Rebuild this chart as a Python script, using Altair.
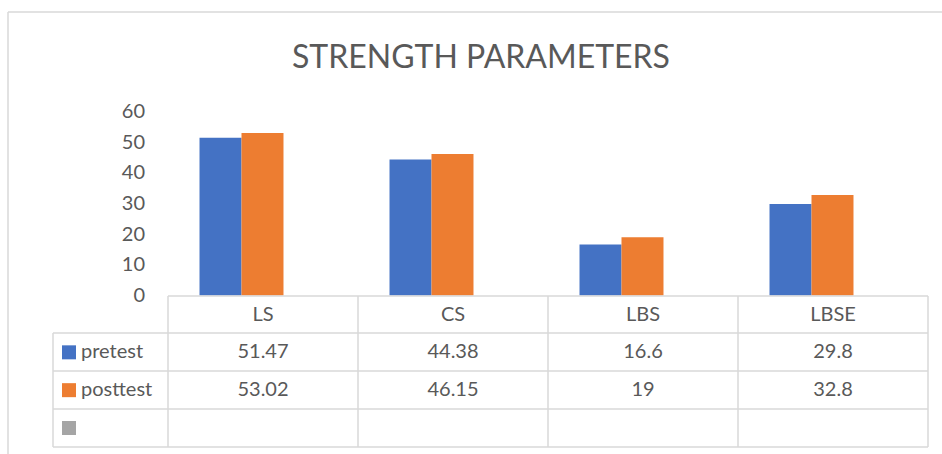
import altair as alt
import pandas as pd

# ---------------- data ----------------
categories = ["LS", "CS", "LBS", "LBSE"]
series_names = ["pretest", "posttest"]
pretest = [51.47, 44.38, 16.6, 29.8]
posttest = [53.02, 46.15, 19, 32.8]
y_ticks = [0, 10, 20, 30, 40, 50, 60]
title_text = "STRENGTH PARAMETERS"
table_rows = ["header", "pretest", "posttest", "blank"]
legend_labels = ["pretest", "posttest", ""]

# ---------------- style ----------------
BLUE, ORANGE, GRAY = "#4472C4", "#ED7D31", "#A5A5A5"
TEXT, LINE = "#595959", "#D9D9D9"
FONT = "Lato"
FS = 20

# plot area placement (pixels in the 942x454 page)
L, T = 146.5, 111.5
W, H = 760, 184
COL_SHIFT = 21.5  # table columns are offset from bar groups

bars_df = pd.DataFrame({
    "category": categories * 2,
    "series": ["pretest"] * len(categories) + ["posttest"] * len(categories),
    "value": pretest + posttest,
})
bars_df["label"] = bars_df["value"].map(lambda v: f"{v:g}")
bars_df["row"] = bars_df["series"]

cat_df = pd.DataFrame({"category": categories, "row": "header"})
legend_df = pd.DataFrame({"series": ["pretest", "posttest", "blank"], "label": legend_labels})
legend_df["row"] = legend_df["series"]

xscale = alt.Scale(domain=categories, paddingInner=0.558, paddingOuter=0.279)
xenc = alt.X("category:N", sort=categories, scale=xscale, axis=None)
color_scale = alt.Scale(domain=["pretest", "posttest", "blank"], range=[BLUE, ORANGE, GRAY])
row_y = alt.Y("row:N", scale=alt.Scale(type="point", domain=table_rows,
                                       range=[314.5 - T, 428 - T], padding=0), axis=None)

bars = alt.Chart(bars_df).mark_bar().encode(
    x=xenc,
    xOffset=alt.XOffset("series:N", sort=series_names,
                        scale=alt.Scale(domain=series_names, paddingInner=0, paddingOuter=0)),
    y=alt.Y("value:Q", scale=alt.Scale(domain=[0, 60], nice=False),
            axis=alt.Axis(values=y_ticks, grid=False, domain=False, ticks=False,
                          labelPadding=2, labelFont=FONT, labelFontSize=FS,
                          labelColor=TEXT, title=None)),
    color=alt.Color("series:N", scale=color_scale, legend=None),
)

text_kw = dict(font=FONT, fontSize=FS, color=TEXT, baseline="middle")

header_text = alt.Chart(cat_df).mark_text(xOffset=COL_SHIFT, **text_kw).encode(
    x=xenc, y=row_y, text="category:N")

value_text = alt.Chart(bars_df).mark_text(xOffset=COL_SHIFT, **text_kw).encode(
    x=xenc, y=row_y, text="label:N")

legend_text = alt.Chart(legend_df).mark_text(align="left", **text_kw).encode(
    x=alt.value(81 - L), y=row_y, text="label:N")

legend_keys = alt.Chart(legend_df).mark_square(size=196, opacity=1).encode(
    x=alt.value(69 - L), y=row_y,
    color=alt.Color("series:N", scale=color_scale, legend=None))

# table grid
rule_kw = dict(color=LINE, strokeWidth=1.5)
col_left = alt.Chart(cat_df).mark_rule(xOffset=-95 + COL_SHIFT, **rule_kw).encode(
    x=xenc, y=alt.value(296 - T), y2=alt.value(447 - T))
col_right = alt.Chart(cat_df[cat_df.category == categories[-1]]).mark_rule(
    xOffset=95 + COL_SHIFT, **rule_kw).encode(
    x=xenc, y=alt.value(296 - T), y2=alt.value(447 - T))
col_legend = alt.Chart(cat_df.head(1)).mark_rule(**rule_kw).encode(
    x=alt.value(53 - L), y=alt.value(333 - T), y2=alt.value(447 - T))
hlines = []
for i, yy in enumerate([296, 333, 371, 409, 447]):
    x0 = 168 if i == 0 else 53
    hlines.append(alt.Chart(cat_df.head(1)).mark_rule(**rule_kw).encode(
        x=alt.value(x0 - L), x2=alt.value(928 - L), y=alt.value(yy - T)))

# chart frame
frame_top = alt.Chart(cat_df.head(1)).mark_rule(color=LINE, strokeWidth=1.5).encode(
    x=alt.value(8 - L), x2=alt.value(942 - L), y=alt.value(12 - T))
frame_left = alt.Chart(cat_df.head(1)).mark_rule(color=LINE, strokeWidth=1.5).encode(
    x=alt.value(8 - L), y=alt.value(12 - T), y2=alt.value(454 - T))

title = alt.Chart(pd.DataFrame({"t": [title_text]})).mark_text(
    font=FONT, fontSize=32, fontWeight=400, color=TEXT, align="center",
    baseline="alphabetic").encode(
    x=alt.value(481 - L), y=alt.value(67.5 - T), text="t:N")

chart = alt.layer(
    frame_top, frame_left, title, bars,
    col_left, col_right, col_legend, *hlines,
    header_text, value_text, legend_text, legend_keys,
).resolve_scale(y="independent").properties(
    width=W, height=H,
    padding={"left": L, "top": T, "right": 942 - L - W, "bottom": 454 - T - H},
    autosize=alt.AutoSizeParams(type="none"),
    background="white",
).configure_view(stroke=None)

chart.save("out.html", embed_options={"renderer": "svg", "actions": False})
